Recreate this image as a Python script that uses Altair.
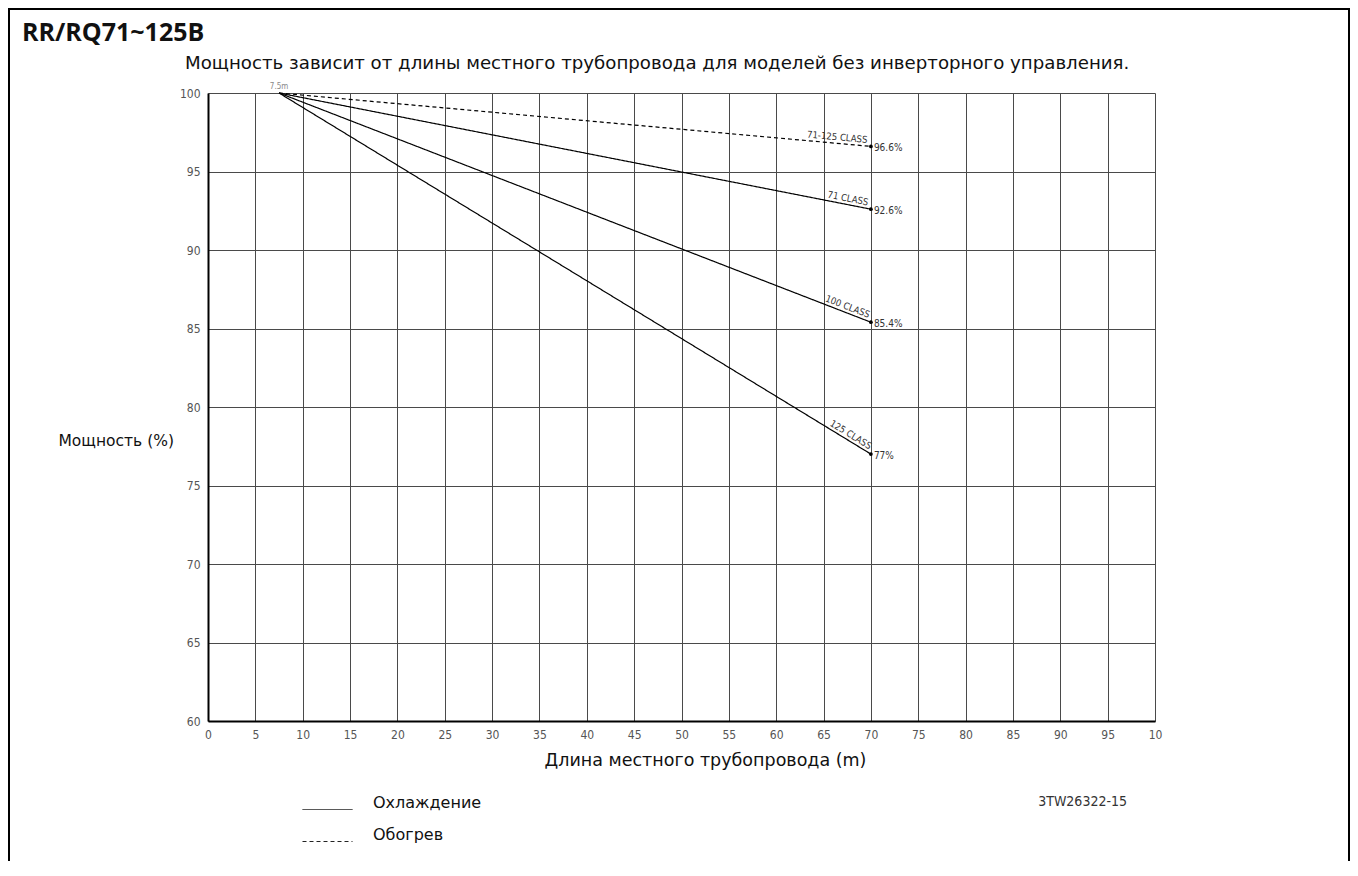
import math
import altair as alt
import pandas as pd

# ---------------- data ----------------
x_start = 7.5
x_end = 70
series_names = ["71-125 CLASS", "71 CLASS", "100 CLASS", "125 CLASS"]
series_mode = ["Обогрев", "Охлаждение", "Охлаждение", "Охлаждение"]
start_values = [100, 100, 100, 100]
end_values = [96.6, 92.6, 85.4, 77.0]
end_labels = ["96.6%", "92.6%", "85.4%", "77%"]
start_label = ["7.5m"]
mode_order = ["Охлаждение", "Обогрев"]
x_ticks = list(range(0, 101, 5))
y_ticks = list(range(60, 101, 5))
heading = ["RR/RQ71~125B"]
subtitle = ["Мощность зависит от длины местного трубопровода для моделей без инверторного управления."]
x_title = "Длина местного трубопровода  (m)"
y_title = "Мощность (%)"
drawing_code = ["3TW26322-15"]

# ---------------- layout ----------------
W, H = 947, 628
X_DOM = [0, 100]
Y_DOM = [60, 100]
NARROW = "Liberation Sans Narrow, DejaVu Sans Condensed, sans-serif"
SANS = "DejaVu Sans, sans-serif"

px_x = W / (X_DOM[1] - X_DOM[0])
px_y = H / (Y_DOM[1] - Y_DOM[0])

rows = []
for n, m, s, e in zip(series_names, series_mode, start_values, end_values):
    rows.append({"series": n, "mode": m, "x": x_start, "y": s})
    rows.append({"series": n, "mode": m, "x": x_end, "y": e})
lines_df = pd.DataFrame(rows)

ends_df = pd.DataFrame({
    "series": series_names,
    "x": [x_end] * len(series_names),
    "y": end_values,
    "pct": end_labels,
    "angle": [math.degrees(math.atan(((s - e) * px_y) / ((x_end - x_start) * px_x)))
              for s, e in zip(start_values, end_values)],
})

xs = alt.Scale(domain=X_DOM, nice=False, zero=False)
ys = alt.Scale(domain=Y_DOM, nice=False, zero=False)

x_axis = alt.Axis(values=x_ticks, grid=True, gridColor="#4a4a4a", gridWidth=1,
                  domainColor="black", domainWidth=2, ticks=False,
                  labelFlush=False, labelOverlap=False, labelPadding=8,
                  labelExpr="datum.value == 100 ? '10' : datum.label",
                  labelFont=NARROW, labelFontSize=12, labelColor="#555",
                  title=x_title, titleFont=SANS, titleFontSize=17.5,
                  titleFontWeight="normal", titleColor="#111",
                  titleX=497, titleY=39, titleAlign="center", titleBaseline="middle")
y_axis = alt.Axis(values=y_ticks, grid=True, gridColor="#4a4a4a", gridWidth=1,
                  domainColor="black", domainWidth=2, ticks=False,
                  labelFlush=False, labelOverlap=False, labelPadding=8,
                  labelFont=NARROW, labelFontSize=12, labelColor="#555",
                  title=y_title, titleFont=SANS, titleFontSize=15.5,
                  titleFontWeight="normal", titleColor="#111", titleAngle=0,
                  titleX=-150, titleY=347, titleAlign="left", titleBaseline="middle")

lines = alt.Chart(lines_df).mark_line(color="black", strokeWidth=1.2).encode(
    x=alt.X("x:Q", scale=xs, axis=x_axis),
    y=alt.Y("y:Q", scale=ys, axis=y_axis),
    detail="series:N",
    strokeDash=alt.StrokeDash(
        "mode:N",
        scale=alt.Scale(domain=mode_order, range=[[1, 0], [4, 3]]),
        legend=alt.Legend(orient="none", legendX=111.5, legendY=702, title=None,
                          padding=0, symbolType="M-5,1.3H5", symbolSize=100,
                          symbolStrokeWidth=1, symbolStrokeColor="#222",
                          labelFont=SANS, labelFontSize=16, labelColor="#111",
                          labelOffset=37.5, rowPadding=15),
    ),
)

points = alt.Chart(ends_df).mark_point(filled=True, color="black", size=14, opacity=1).encode(
    x=alt.X("x:Q", scale=xs), y=alt.Y("y:Q", scale=ys))

class_labels = alt.Chart(ends_df).mark_text(
    align="right", baseline="bottom", dx=-4, dy=-1, font=NARROW, fontSize=9.5, color="#333"
).encode(x=alt.X("x:Q", scale=xs), y=alt.Y("y:Q", scale=ys),
         angle=alt.Angle("angle:Q", scale=None), text="series:N")

pct_labels = alt.Chart(ends_df).mark_text(
    align="left", baseline="middle", dx=3, dy=2, font=NARROW, fontSize=10, color="#333"
).encode(x=alt.X("x:Q", scale=xs), y=alt.Y("y:Q", scale=ys), text="pct:N")

start_df = pd.DataFrame({"x": [x_start], "y": [start_values[0]], "t": start_label})
start_text = alt.Chart(start_df).mark_text(
    align="center", baseline="bottom", dy=-2, font=NARROW, fontSize=8, color="#888"
).encode(x=alt.X("x:Q", scale=xs), y=alt.Y("y:Q", scale=ys), text="t:N")

head = alt.Chart(pd.DataFrame({"t": heading})).mark_text(
    align="left", baseline="middle", font="Open Sans", fontSize=25, fontWeight="bold", color="#111"
).encode(x=alt.value(-186), y=alt.value(-60), text="t:N")

sub = alt.Chart(pd.DataFrame({"t": subtitle})).mark_text(
    align="left", baseline="middle", font=SANS, fontSize=18.2, color="#111"
).encode(x=alt.value(-23), y=alt.value(-29), text="t:N")

code = alt.Chart(pd.DataFrame({"t": drawing_code})).mark_text(
    align="right", baseline="middle", font=NARROW, fontSize=14, color="#333"
).encode(x=alt.value(919), y=alt.value(709), text="t:N")

frame = alt.Chart(pd.DataFrame({"k": [0]})).mark_rect(
    filled=False, stroke="black", strokeWidth=2
).encode(x=alt.value(-199), x2=alt.value(1141), y=alt.value(-84), y2=alt.value(820))

chart = alt.layer(frame, lines, points, class_labels, pct_labels, start_text, head, sub, code).properties(
    width=W, height=H,
    padding={"left": 200, "top": 85, "right": 195, "bottom": 140},
    autosize=alt.AutoSizeParams(type="none"),
    background="white",
).configure_view(strokeWidth=0)

chart.save("out.html", embed_options={"renderer": "svg", "actions": False})
